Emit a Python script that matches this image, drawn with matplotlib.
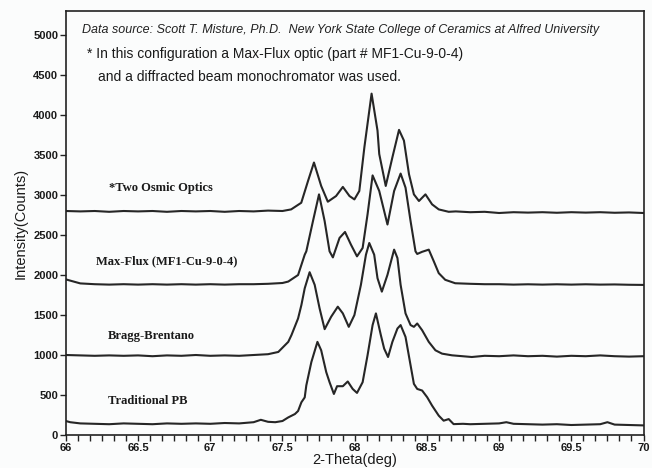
import matplotlib
matplotlib.use("Agg")
import matplotlib.pyplot as plt
from matplotlib.ticker import MultipleLocator, AutoMinorLocator

# 2-theta (deg) / intensity (counts)
osmic_x = [66.0, 66.1, 66.2, 66.3, 66.4, 66.5, 66.6, 66.7, 66.8, 66.9, 67.0, 67.1, 67.2, 67.3, 67.4, 67.5,
           67.56, 67.63, 67.677, 67.718, 67.768, 67.814, 67.871, 67.918, 67.964, 67.998, 68.032, 68.067,
           68.117, 68.158, 68.17, 68.215, 68.261, 68.307, 68.341, 68.376, 68.41, 68.445, 68.49, 68.536,
           68.582, 68.651, 68.7, 68.8, 68.9, 69.0, 69.1, 69.2, 69.3, 69.4, 69.5, 69.6, 69.7, 69.8, 69.9, 70.0]
osmic_y = [2800, 2795, 2800, 2790, 2800, 2795, 2800, 2790, 2800, 2795, 2800, 2790, 2800, 2795, 2805, 2800,
           2820, 2903, 3176, 3406, 3113, 2916, 2987, 3101, 2987, 2945, 3050, 3595,
           4267, 3805, 3512, 3113, 3470, 3814, 3680, 3260, 3008, 2925, 3008, 2883,
           2820, 2790, 2795, 2785, 2790, 2775, 2785, 2780, 2785, 2778, 2785, 2780, 2785, 2778, 2782, 2775]

maxflux_x = [66.0, 66.05, 66.1, 66.2, 66.3, 66.4, 66.5, 66.6, 66.7, 66.8, 66.9, 67.0, 67.1, 67.2, 67.3, 67.4,
             67.5, 67.54, 67.608, 67.654, 67.665, 67.711, 67.753, 67.792, 67.826, 67.849, 67.895, 67.933,
             67.974, 68.016, 68.055, 68.089, 68.124, 68.17, 68.227, 68.273, 68.318, 68.352, 68.387, 68.421,
             68.433, 68.467, 68.513, 68.548, 68.582, 68.627, 68.696, 68.8, 68.9, 69.0, 69.1, 69.2, 69.3,
             69.4, 69.5, 69.6, 69.7, 69.8, 69.9, 70.0]
maxflux_y = [1945, 1920, 1895, 1885, 1880, 1885, 1880, 1885, 1880, 1885, 1880, 1885, 1880, 1885, 1885, 1890,
             1900, 1918, 2000, 2254, 2296, 2673, 3008, 2673, 2296, 2220, 2463, 2538,
             2380, 2233, 2338, 2757, 3245, 3050, 2631, 3050, 3268, 3092, 2673, 2296,
             2263, 2290, 2317, 2170, 2023, 1940, 1897, 1890, 1885, 1885, 1880, 1884, 1880,
             1884, 1880, 1884, 1880, 1882, 1878, 1876]

bragg_x = [66.0, 66.1, 66.2, 66.3, 66.4, 66.5, 66.6, 66.7, 66.8, 66.9, 67.0, 67.1, 67.2, 67.3, 67.4, 67.471,
           67.54, 67.562, 67.608, 67.631, 67.654, 67.688, 67.723, 67.757, 67.792, 67.837, 67.883, 67.918,
           67.959, 67.998, 68.043, 68.078, 68.101, 68.135, 68.158, 68.188, 68.227, 68.273, 68.296, 68.318,
           68.352, 68.387, 68.41, 68.433, 68.467, 68.513, 68.559, 68.605, 68.674, 68.811, 68.9, 69.0, 69.1,
           69.2, 69.3, 69.4, 69.5, 69.6, 69.7, 69.8, 69.9, 70.0]
bragg_y = [1000, 995, 990, 995, 990, 995, 985, 995, 990, 1000, 990, 995, 990, 1000, 1010, 1038,
           1164, 1248, 1457, 1625, 1834, 2035, 1877, 1583, 1323, 1478, 1604, 1520,
           1352, 1499, 1877, 2254, 2400, 2254, 1960, 1792, 2002, 2317, 2212, 1877,
           1520, 1374, 1352, 1394, 1310, 1164, 1059, 1017, 996, 975, 990, 985, 995,
           985, 990, 980, 990, 985, 995, 985, 980, 985]

trad_x = [66.0, 66.03, 66.1, 66.2, 66.3, 66.4, 66.5, 66.6, 66.7, 66.8, 66.9, 67.0, 67.1, 67.2, 67.3, 67.35,
          67.4, 67.45, 67.5, 67.54, 67.586, 67.608, 67.631, 67.654, 67.665, 67.7, 67.742, 67.768, 67.803,
          67.826, 67.856, 67.878, 67.918, 67.952, 67.986, 68.016, 68.055, 68.089, 68.124, 68.147, 68.181,
          68.204, 68.231, 68.261, 68.296, 68.318, 68.352, 68.387, 68.41, 68.433, 68.467, 68.502, 68.536,
          68.582, 68.616, 68.651, 68.685, 68.75, 68.8, 68.9, 69.0, 69.05, 69.1, 69.2, 69.3, 69.4, 69.5,
          69.6, 69.7, 69.75, 69.8, 69.9, 70.0]
trad_y = [175, 160, 145, 140, 135, 145, 140, 135, 145, 140, 145, 140, 150, 145, 160, 190,
          165, 160, 175, 220, 262, 300, 409, 470, 620, 912, 1164, 1059, 786,
          660, 513, 610, 610, 669, 576, 526, 660, 996, 1374, 1520, 1250,
          1080, 975, 1164, 1331, 1374, 1226, 871, 639, 576, 556, 472, 367,
          242, 179, 199, 136, 140, 135, 140, 145, 160, 140, 135, 130, 135, 125,
          130, 135, 160, 130, 125, 120]

curve_labels = ["*Two Osmic Optics", "Max-Flux (MF1-Cu-9-0-4)", "Bragg-Brentano", "Traditional PB"]
label_x = [66.30, 66.21, 66.29, 66.29]
label_y = [3090, 2175, 1240, 430]

line_color = "#262626"

fig = plt.figure(figsize=(6.52, 4.68), dpi=100, facecolor="#fbfcfc")
ax = fig.add_axes([0.101, 0.0705, 0.886, 0.906])
ax.set_facecolor("#fbfcfc")

for xs, ys in [(osmic_x, osmic_y), (maxflux_x, maxflux_y), (bragg_x, bragg_y), (trad_x, trad_y)]:
    ax.plot(xs, ys, color=line_color, lw=1.5, solid_joinstyle="round")

for txt, lx, ly in zip(curve_labels, label_x, label_y):
    ax.text(lx, ly, txt, family="Liberation Serif", weight="bold", fontsize=9,
            color="#1a1a1a", va="center", ha="left")

ax.text(0.028, 0.955, "Data source: Scott T. Misture, Ph.D.  New York State College of Ceramics at Alfred University",
        transform=ax.transAxes, family=["Liberation Sans Narrow", "Liberation Sans"], style="italic",
        fontsize=9, color="#222222", va="center", ha="left")
ax.text(0.036, 0.898, "* In this configuration a Max-Flux optic (part # MF1-Cu-9-0-4)",
        transform=ax.transAxes, family="Liberation Sans", fontsize=10, color="#1a1a1a", va="center", ha="left")
ax.text(0.055, 0.845, "and a diffracted beam monochromator was used.",
        transform=ax.transAxes, family="Liberation Sans", fontsize=10, color="#1a1a1a", va="center", ha="left")

ax.set_xlim(66, 70)
ax.set_ylim(0, 5300)
ax.set_xticks([66, 66.5, 67, 67.5, 68, 68.5, 69, 69.5, 70])
ax.set_xticklabels(["66", "66.5", "67", "67.5", "68", "68.5", "69", "69.5", "70"])
ax.xaxis.set_minor_locator(AutoMinorLocator(6))
ax.set_yticks(range(0, 5001, 500))

ax.tick_params(axis="both", which="both", direction="out", color="#222222", width=1.0,
               labelsize=8, labelcolor="#1a1a1a", pad=1.5)
ax.tick_params(axis="both", which="major", length=4)
ax.tick_params(axis="x", which="minor", length=4)
for lab in ax.get_xticklabels() + ax.get_yticklabels():
    lab.set_family("Liberation Sans")
    lab.set_weight("bold")

for sp in ax.spines.values():
    sp.set_color("#222222")
    sp.set_linewidth(1.2)

ax.set_xlabel("2-Theta(deg)", family="Liberation Sans", fontsize=10.5, color="#1a1a1a", labelpad=0)
ax.set_ylabel("Intensity(Counts)", family="Liberation Sans", fontsize=10.5, color="#1a1a1a", labelpad=4)

fig.savefig("out.png", dpi=100, facecolor=fig.get_facecolor())
